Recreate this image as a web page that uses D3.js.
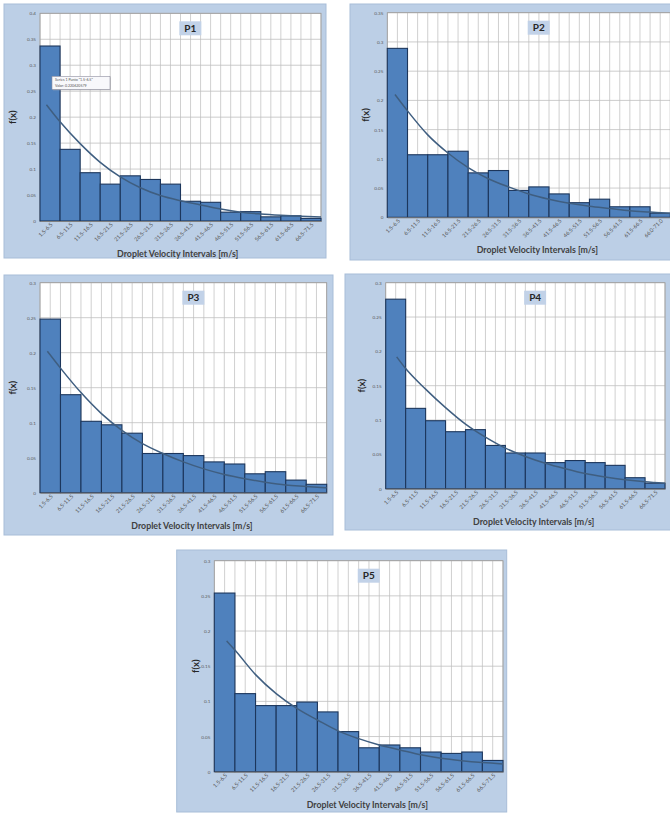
<!DOCTYPE html>
<html>
<head>
<meta charset="utf-8">
<script src="https://cdn.jsdelivr.net/npm/d3@7"></script>
<style>
  body { margin: 0; background: #ffffff; }
  svg { display: block; }
  text { font-family: Lato, "Open Sans", sans-serif; }
</style>
</head>
<body>
<div id="chart"></div>
<script>
// Page size
var svgWidth = 670;
var svgHeight = 814;

// Velocity classes on the x axis
var intervals = ["1.5-6.5", "6.5-11.5", "11.5-16.5", "16.5-21.5", "21.5-26.5", "26.5-31.5", "31.5-36.5",
    "36.5-41.5", "41.5-46.5", "46.5-51.5", "51.5-56.5", "56.5-61.5", "61.5-66.5", "66.5-71.5"];
var intervalsP2 = ["1.5-6.5", "6.5-11.5", "11.5-16.5", "16.5-21.5", "21.5-26.5", "26.5-31.5", "31.5-36.5",
    "36.5-41.5", "41.5-46.5", "46.5-51.5", "51.5-56.5", "56.5-61.5", "61.5-66.5", "66.0-71.0"];
var velocityRange = [1.5, 71.5];

// Tick values of the f(x) axes
var yTicks35 = [0, 0.05, 0.1, 0.15, 0.2, 0.25, 0.3, 0.35];
var yTicks40 = [0, 0.05, 0.1, 0.15, 0.2, 0.25, 0.3, 0.35, 0.4];
var yTicks30 = [0, 0.05, 0.1, 0.15, 0.2, 0.25, 0.3];

// Relative frequency of each class (bars)
var p1Bars = [0.337, 0.138, 0.093, 0.071, 0.087, 0.080, 0.071, 0.038, 0.036, 0.017, 0.018, 0.008, 0.010, 0.005];
var p2Bars = [0.289, 0.107, 0.107, 0.113, 0.076, 0.080, 0.046, 0.052, 0.040, 0.025, 0.031, 0.018, 0.018, 0.007];
var p3Bars = [0.248, 0.140, 0.102, 0.097, 0.085, 0.056, 0.056, 0.053, 0.044, 0.041, 0.027, 0.030, 0.018, 0.012];
var p4Bars = [0.276, 0.117, 0.099, 0.083, 0.086, 0.063, 0.052, 0.052, 0.038, 0.041, 0.038, 0.034, 0.016, 0.008];
var p5Bars = [0.254, 0.111, 0.094, 0.094, 0.099, 0.085, 0.057, 0.034, 0.038, 0.034, 0.028, 0.026, 0.028, 0.016];

// Fitted curve, read at the class edges (m/s)
var curveEdges = [6.5, 11.5, 16.5, 21.5, 26.5, 31.5, 36.5, 41.5, 46.5, 51.5, 56.5, 61.5, 66.5, 71.5];
var p1CurveStart = [3.1, 0.224];
var p1Curve = [0.191, 0.149, 0.113, 0.085, 0.064, 0.049, 0.039, 0.031, 0.023, 0.017, 0.0135, 0.011, 0.009, 0.0077];
var p2CurveStart = [3.4, 0.210];
var p2Curve = [0.182, 0.141, 0.110, 0.085, 0.066, 0.052, 0.040, 0.031, 0.024, 0.019, 0.015, 0.011, 0.009, 0.007];
var p3CurveStart = [3.3, 0.202];
var p3Curve = [0.178, 0.143, 0.113, 0.089, 0.070, 0.056, 0.044, 0.034, 0.026, 0.020, 0.015, 0.011, 0.009, 0.007];
var p4CurveStart = [4.25, 0.192];
var p4Curve = [0.175, 0.145, 0.118, 0.094, 0.075, 0.059, 0.047, 0.037, 0.029, 0.022, 0.017, 0.013, 0.010, 0.008];
var p5CurveStart = [4.5, 0.186];
var p5Curve = [0.173, 0.138, 0.111, 0.090, 0.0735, 0.058, 0.047, 0.038, 0.031, 0.024, 0.019, 0.0156, 0.013, 0.011];

// Where each chart sits on the page
var charts = [
    {name: "P1", labels: intervals, bars: p1Bars, start: p1CurveStart, curve: p1Curve, ticks: yTicks40,
     box: [4, 4, 322, 254], plot: [40, 13.3, 281, 207.7], ylabDx: -27, xlabFrac: 0.49},
    {name: "P2", labels: intervalsP2, bars: p2Bars, start: p2CurveStart, curve: p2Curve, ticks: yTicks35,
     box: [350, 4, 322, 256], plot: [387.3, 12.7, 283, 204.6], ylabDx: -22, xlabFrac: 0.53},
    {name: "P3", labels: intervals, bars: p3Bars, start: p3CurveStart, curve: p3Curve, ticks: yTicks30,
     box: [4, 275, 329, 260], plot: [40, 282.7, 286.7, 210], ylabDx: -27, xlabFrac: 0.53},
    {name: "P4", labels: intervals, bars: p4Bars, start: p4CurveStart, curve: p4Curve, ticks: yTicks30,
     box: [345, 274, 327, 256], plot: [385.7, 282.7, 279.3, 206], ylabDx: -24, xlabFrac: 0.53},
    {name: "P5", labels: intervals, bars: p5Bars, start: p5CurveStart, curve: p5Curve, ticks: yTicks30,
     box: [176.7, 550, 330, 262], plot: [214.3, 560.7, 288.7, 211], ylabDx: -19, xlabFrac: 0.53}
];

var svg = d3.select("#chart")
    .append("svg")
    .attr("width", svgWidth)
    .attr("height", svgHeight);

var fmt = d3.format("~g");

charts.forEach(function(c) {
    var width = c.plot[2];
    var height = c.plot[3];

    // light blue chart area
    svg.append("rect")
        .attr("x", c.box[0]).attr("y", c.box[1])
        .attr("width", c.box[2]).attr("height", c.box[3])
        .attr("fill", "#bccfe6")
        .attr("stroke", "#a8bdd8");

    var g = svg.append("g")
        .attr("transform", `translate(${c.plot[0]}, ${c.plot[1]})`);

    var xBand = d3.scaleBand().domain(c.labels).range([0, width]).padding(0);
    var xVel = d3.scaleLinear().domain(velocityRange).range([0, width]);
    var y = d3.scaleLinear().domain([0, d3.max(c.ticks)]).range([height, 0]);

    g.append("rect")
        .attr("width", width).attr("height", height)
        .attr("fill", "#ffffff");

    // vertical grid: every half class
    var halfSteps = d3.range(velocityRange[0], velocityRange[1] + 0.01, 2.5);
    g.selectAll(".vgrid")
        .data(halfSteps)
        .enter()
        .append("line")
        .attr("x1", d => xVel(d)).attr("x2", d => xVel(d))
        .attr("y1", 0).attr("y2", height)
        .attr("stroke", "#c4c4c4")
        .attr("stroke-width", 0.8);

    g.selectAll(".hgrid")
        .data(c.ticks)
        .enter()
        .append("line")
        .attr("x1", 0).attr("x2", width)
        .attr("y1", d => y(d)).attr("y2", d => y(d))
        .attr("stroke", "#bfbfbf")
        .attr("stroke-width", 0.8);

    g.append("rect")
        .attr("width", width).attr("height", height)
        .attr("fill", "none")
        .attr("stroke", "#9a9a9a")
        .attr("stroke-width", 0.8);

    // bars
    g.selectAll(".bar")
        .data(c.bars)
        .enter()
        .append("rect")
        .attr("x", (d, i) => xBand(c.labels[i]))
        .attr("y", d => y(d))
        .attr("width", xBand.bandwidth())
        .attr("height", d => height - y(d))
        .attr("fill", "#4f81bd")
        .attr("stroke", "#1c365c")
        .attr("stroke-width", 1.1);

    // fitted curve
    var pts = [c.start].concat(curveEdges.map((e, i) => [e, c.curve[i]]));
    var line = d3.line()
        .x(d => xVel(d[0]))
        .y(d => y(d[1]))
        .curve(d3.curveMonotoneX);
    g.append("path")
        .datum(pts)
        .attr("d", line)
        .attr("fill", "none")
        .attr("stroke", "#3f5e80")
        .attr("stroke-width", 1.5);

    // y axis
    var leftAxis = d3.axisLeft(y).tickValues(c.ticks).tickSize(0).tickPadding(4).tickFormat(fmt);
    var yAxis = g.append("g").call(leftAxis);
    yAxis.select(".domain").remove();
    yAxis.selectAll("text")
        .attr("font-size", 4.6)
        .attr("fill", "#595959")
        .style("font-family", "Lato, sans-serif");

    // x axis with slanted labels
    var bottomAxis = d3.axisBottom(xBand).tickSize(0).tickPadding(0);
    var xAxis = g.append("g")
        .attr("transform", `translate(0, ${height})`)
        .call(bottomAxis);
    xAxis.select(".domain").attr("stroke", "#7f7f7f");
    xAxis.selectAll("text")
        .attr("font-size", 5.5)
        .attr("fill", "#595959")
        .attr("text-anchor", "end")
        .attr("dy", 0)
        .attr("transform", "translate(3, 4) rotate(-45)")
        .style("font-family", "Lato, sans-serif");

    // axis titles
    g.append("text")
        .attr("x", width * c.xlabFrac)
        .attr("y", height + 36)
        .attr("text-anchor", "middle")
        .attr("font-size", 8.8)
        .attr("font-weight", "bold")
        .attr("fill", "#404040")
        .text("Droplet Velocity Intervals [m/s]");

    g.append("text")
        .attr("transform", `translate(${c.ylabDx}, ${height / 2}) rotate(-90)`)
        .attr("text-anchor", "middle")
        .attr("dy", "0.35em")
        .attr("font-size", 9.5)
        .attr("font-weight", "bold")
        .attr("fill", "#262626")
        .text("f(x)");

    // chart title in a small box
    var tg = g.append("g")
        .attr("transform", `translate(${width * 0.535}, 15)`);
    tg.append("rect")
        .attr("x", -11).attr("y", -7)
        .attr("width", 22).attr("height", 14)
        .attr("fill", "#c2d2e8");
    tg.append("text")
        .attr("text-anchor", "middle")
        .attr("dy", "0.36em")
        .attr("font-size", 10)
        .attr("font-weight", "bold")
        .attr("fill", "#262626")
        .text(c.name);

    // Excel data tip left on the first chart
    if (c.name === "P1") {
        var tip = g.append("g").attr("transform", "translate(12, 63)");
        tip.append("rect")
            .attr("x", 1).attr("y", 1)
            .attr("width", 58).attr("height", 13)
            .attr("fill", "#b0b0b0").attr("opacity", 0.6);
        tip.append("rect")
            .attr("width", 58).attr("height", 13)
            .attr("fill", "#f8f8fb").attr("stroke", "#8e8e9e").attr("stroke-width", 0.6);
        tip.append("text").attr("x", 3).attr("y", 5.2)
            .attr("font-size", 3.6).attr("fill", "#555")
            .text("Series 1 Punto \"1.5-6.5\"");
        tip.append("text").attr("x", 3).attr("y", 10.4)
            .attr("font-size", 3.6).attr("fill", "#555")
            .text("Valor: 0.220620579");
    }
});
</script>
</body>
</html>
